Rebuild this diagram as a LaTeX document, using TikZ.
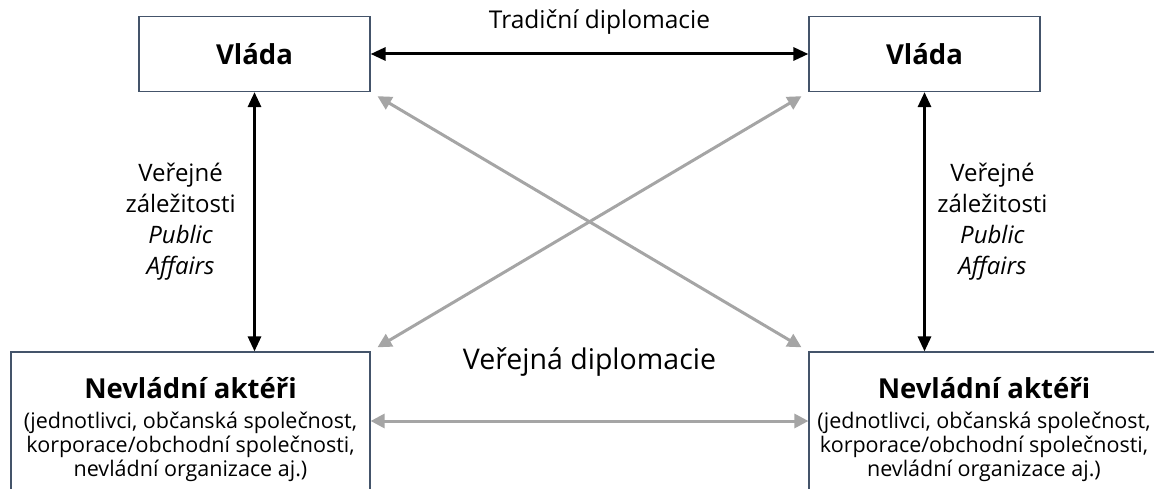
\documentclass[tikz,border=0pt]{standalone}
\usepackage{fontspec}
\setmainfont{Open Sans}
\usetikzlibrary{positioning}
\usetikzlibrary{arrows.meta}
\definecolor{boxline}{RGB}{68,84,106}
\definecolor{pdgray}{RGB}{165,165,165}

\begin{document}
\begin{tikzpicture}[x=1pt, y=1pt, on grid, node distance=100pt,
        govbox/.style={draw=boxline, line width=1.2pt, minimum width=231pt, minimum height=75pt,
          font=\fontsize{27.5}{30}\selectfont\bfseries},
        actorbox/.style={draw=boxline, line width=1.2pt, minimum width=359pt, minimum height=156pt,
          align=center, font=\fontsize{21.5}{24}\selectfont},
        blk/.style={line width=3pt, {Triangle[length=15pt,width=13pt]}-{Triangle[length=15pt,width=13pt]}},
        gry/.style={color=pdgray, line width=3pt, {Triangle[length=14pt,width=14pt]}-{Triangle[length=14pt,width=14pt]}},
        lbl/.style={align=center, font=\fontsize{24}{31}\selectfont}]

        \useasboundingbox (0,0) rectangle (1154,488);

        \node[govbox] (vl) at (254.5,434) {Vláda};
        \node[govbox] (vr) [right=670pt of vl] {Vláda};

        \node[actorbox] (ngoL) [below=376pt of vl, xshift=-64pt]
          {{\fontsize{27.5}{31}\selectfont\bfseries Nevládní aktéři}\\[6pt]
           (jednotlivci, občanská společnost,\\
           korporace/obchodní společnosti,\\
           nevládní organizace aj.)};
        \node[actorbox, minimum width=350pt] (ngoR) [right=793.5pt of ngoL]
          {{\fontsize{27.5}{31}\selectfont\bfseries Nevládní aktéři}\\[6pt]
           (jednotlivci, občanská společnost,\\
           korporace/obchodní společnosti,\\
           nevládní organizace aj.)};

        \path[blk]
          (vl.east) edge node[midway, yshift=32pt, xshift=10pt, font=\fontsize{24.5}{28}\selectfont] {Tradiční diplomacie} (vr.west)
          (vl.south) edge node[lbl, midway, left=14pt] {Veřejné\\záležitosti\\\textit{Public}\\\textit{Affairs}} (vl.south |- ngoL.north)
          (vr.south) edge node[lbl, midway, right=8pt] {Veřejné\\záležitosti\\\textit{Public}\\\textit{Affairs}} (vr.south |- ngoR.north);

        \path[gry, shorten <=8pt, shorten >=8pt]
          (vl.south east) edge (ngoR.north west)
          (vr.south west) edge (ngoL.north east);

        \path[gry]
          ([yshift=9pt]ngoL.east) edge node[midway, yshift=59pt, text=black, font=\fontsize{28.5}{32}\selectfont] {Veřejná diplomacie} ([yshift=9pt]ngoR.west);

\end{tikzpicture}
\end{document}
